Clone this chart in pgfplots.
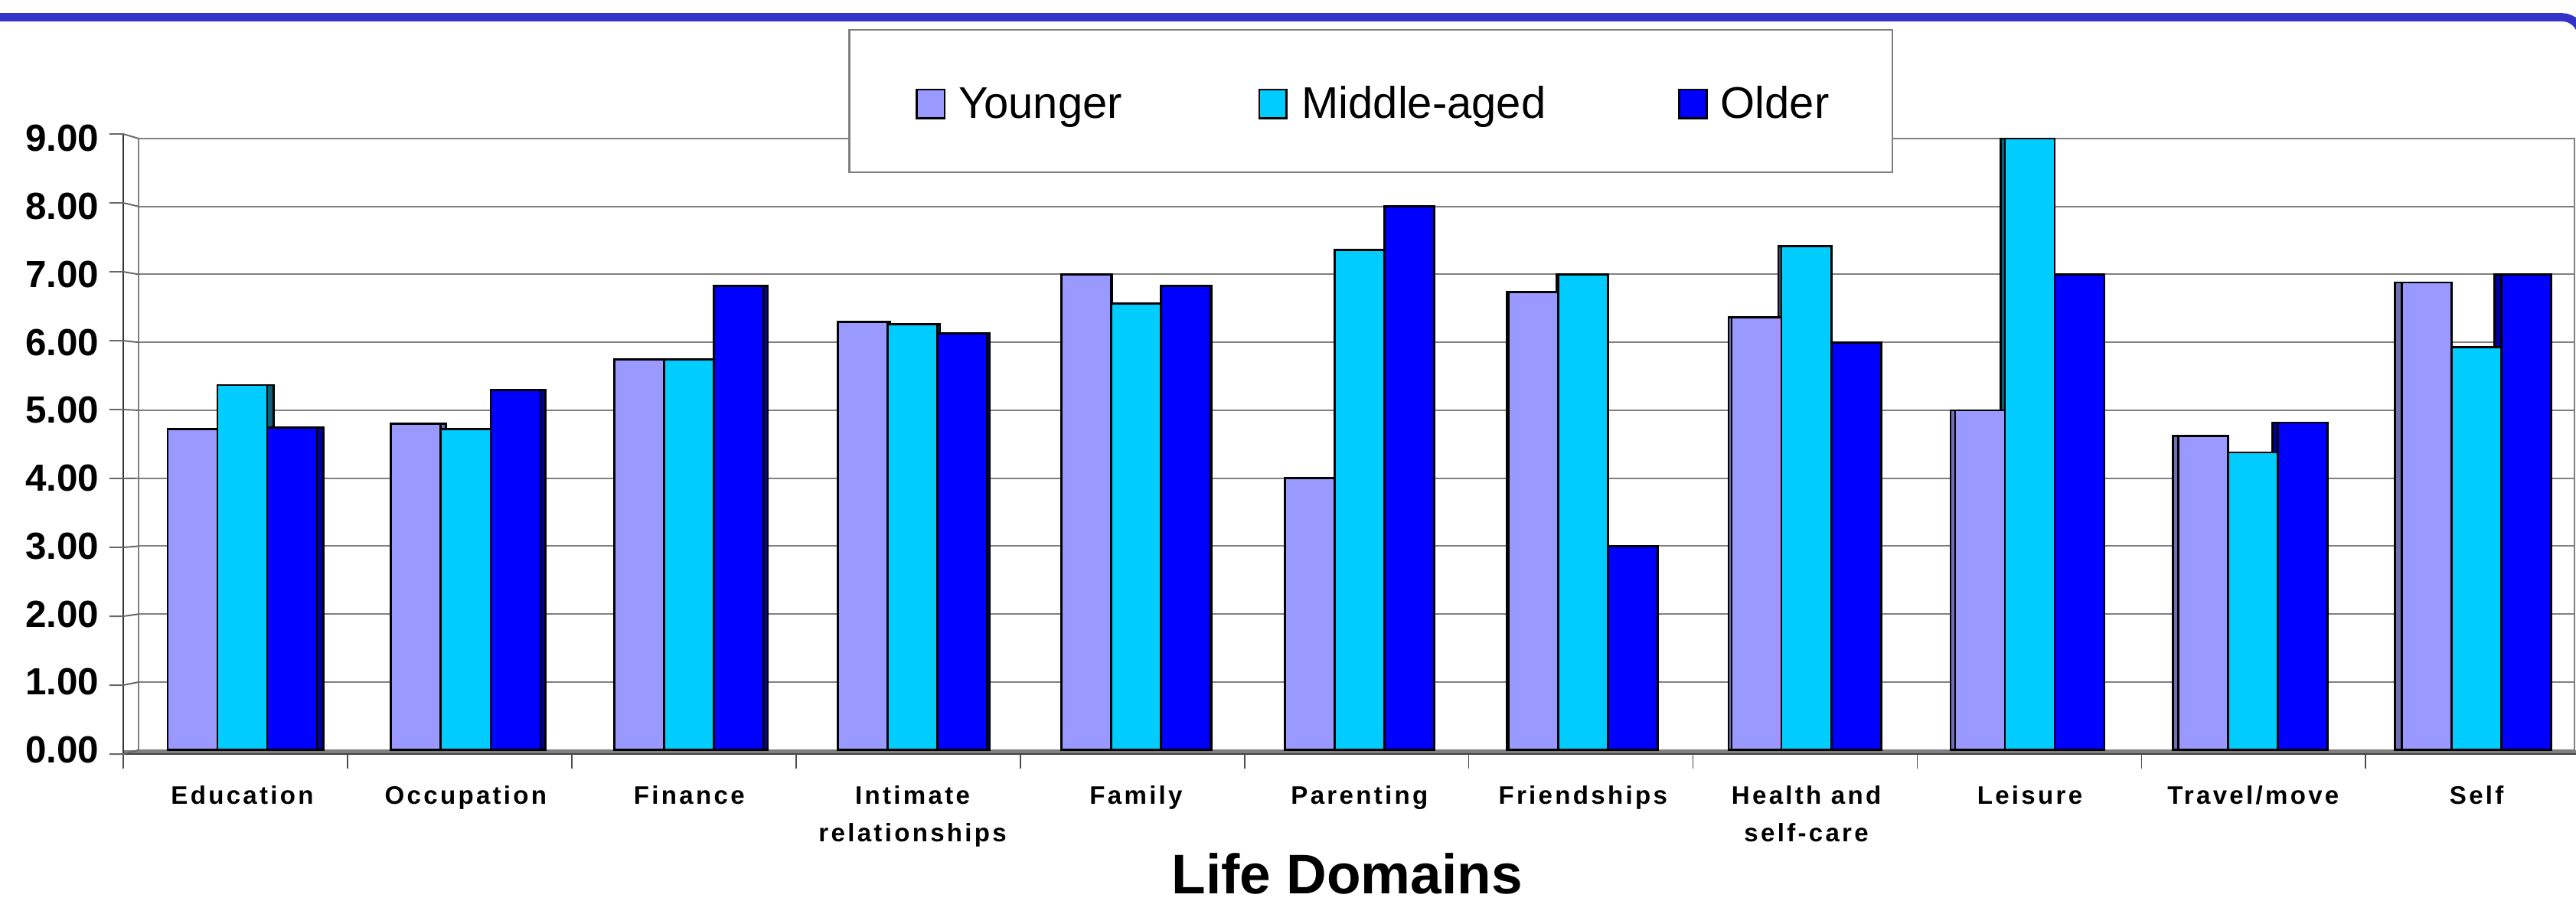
\documentclass[border=0pt]{standalone}
\usepackage{fontspec}
\setmainfont{Liberation Sans}
\newfontfamily\xlabfont[LetterSpace=10]{Liberation Sans}
\usepackage{pgfplots}
\pgfplotsset{compat=1.18}
\usepackage{pgfplotstable}

\definecolor{cY}{HTML}{9999FF}
\definecolor{cM}{HTML}{00CCFF}
\definecolor{cO}{HTML}{0000FF}
\definecolor{sY}{HTML}{7070B4}
\definecolor{sM}{HTML}{00667F}
\definecolor{sO}{HTML}{00009C}
\definecolor{framec}{HTML}{3333CC}
\definecolor{gridg}{HTML}{808080}

% i = category index, xs = x of the 3D side face
\pgfplotstableread{
i  xs       Y     M     O
0  0.0300   4.72  5.37  4.75
1  1.02375  4.80  4.72  5.30
2  2.0175   5.75  5.75  6.83
3  3.01125  6.30  6.27  6.13
4  4.0050   7.00  6.57  6.83
5  4.99875  4.00  7.36  8.00
6  5.9925   6.74  7.00  3.00
7  6.98625  6.37  7.42  6.00
8  7.9800   5.00  9.00  7.00
9  8.97375  4.62  4.38  4.82
10 9.9675   6.88  5.93  7.00
}\data

\begin{document}
\begin{tikzpicture}
\useasboundingbox (0pt,0pt) rectangle (784pt,274pt);
% floor band
\fill[gridg] (37.5pt,44.5pt) rectangle (784pt,45.75pt);
\begin{axis}[
  at={(42.25pt,45.75pt)}, anchor=south west,
  scale only axis, width=741.25pt, height=186.1pt,
  xmin=-0.4632, xmax=10.4375, ymin=0, ymax=9,
  ybar, bar width=15.15pt,
  ytick={0,1,...,9},
  xtick={0,1,...,10},
  xticklabels={\strut Education, \strut Occupation, \strut Finance, {\strut Intimate\\\strut relationships}, \strut Family, \strut Parenting, \strut Friendships, {\strut Health and\\\strut self-care}, \strut Leisure, \strut Travel/move, \strut Self},
  ymajorgrids, grid style={gridg, line width=0.45pt},
  axis line style={gridg, line width=0.45pt},
  major tick length=0pt, tick style={draw=none},
  yticklabel style={/pgf/number format/fixed, /pgf/number format/fixed zerofill,
    /pgf/number format/precision=2, /pgf/number format/assume math mode=true,
    font=\bfseries\fontsize{11.5}{13}\selectfont, anchor=east, inner sep=0pt, xshift=-11.95pt},
  xticklabel style={font=\xlabfont\bfseries\fontsize{7.7}{11.4}\selectfont, align=center,
    anchor=north, inner sep=0pt, yshift=-8.27pt},
  xlabel={Life Domains},
  xlabel style={font=\bfseries\fontsize{17}{20}\selectfont, at={(rel axis cs:0.5,0)},
    anchor=base, inner sep=0pt, yshift=-43.75pt, xshift=-2.9pt},
  clip=false,
]
% side faces (3D depth)
\addplot[fill=sY, draw=black, line width=0.65pt, bar shift=-15.15pt] table[x=xs, y=Y] {\data};
\addplot[fill=sM, draw=black, line width=0.65pt, bar shift=0pt] table[x=xs, y=M] {\data};
\addplot[fill=sO, draw=black, line width=0.65pt, bar shift=15.15pt] table[x=xs, y=O] {\data};
% front faces
\addplot[fill=cY, draw=black, line width=0.65pt, bar shift=-15.15pt] table[x=i, y=Y] {\data};
\addplot[fill=cM, draw=black, line width=0.65pt, bar shift=0pt] table[x=i, y=M] {\data};
\addplot[fill=cO, draw=black, line width=0.65pt, bar shift=15.15pt] table[x=i, y=O] {\data};
\end{axis}
% front edge of floor and x ticks
\draw[black!75, line width=0.5pt] (37.5pt,44.5pt) -- (784pt,44.5pt);
\foreach \k in {0,...,11} {
  \draw[black!70, line width=0.4pt] ({37.5pt+68.25pt*\k},44.5pt) -- ({37.5pt+68.25pt*\k},40pt);
}
% front y axis with tick stubs
\draw[black!80, line width=0.5pt] (37.5pt,44.5pt) -- (37.5pt,233.2pt);
\foreach \v in {0,...,9} {
  \draw[gridg!80!black, line width=0.45pt] (33.3pt,{44.5pt+20.97pt*\v}) -- (37.5pt,{44.5pt+20.97pt*\v}) -- (42.25pt,{45.75pt+20.675pt*\v});
}
% legend
\filldraw[fill=white, draw=gridg, line width=0.5pt] (258.5pt,221.5pt) rectangle (576pt,265pt);
\filldraw[fill=cY, draw=black, line width=0.65pt] (279pt,238pt) rectangle (287.5pt,246.75pt);
\filldraw[fill=cM, draw=black, line width=0.65pt] (383.25pt,238pt) rectangle (391.5pt,246.75pt);
\filldraw[fill=cO, draw=black, line width=0.65pt] (511pt,238pt) rectangle (519.5pt,246.75pt);
\node[anchor=base west, inner sep=0pt, font=\fontsize{13.5}{16}\selectfont] at (291.5pt,238pt) {Younger};
\node[anchor=base west, inner sep=0pt, font=\fontsize{13.5}{16}\selectfont] at (396pt,238pt) {Middle-aged};
\node[anchor=base west, inner sep=0pt, font=\fontsize{13.5}{16}\selectfont] at (523.5pt,238pt) {Older};
% frame line
\draw[framec, line width=2.5pt, rounded corners=6pt] (-5pt,268.75pt) -- (785.75pt,268.75pt) -- (785.75pt,-5pt);
\end{tikzpicture}
\end{document}
